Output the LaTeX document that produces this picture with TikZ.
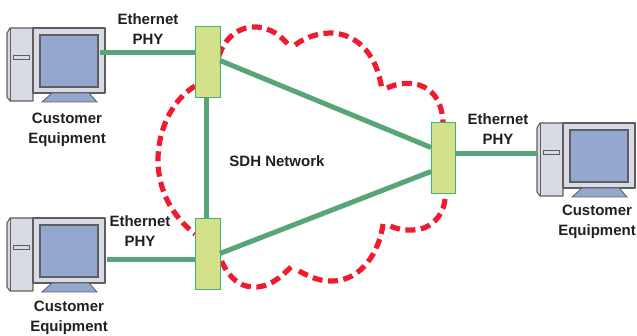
\documentclass[tikz,border=0pt]{standalone}
\usepackage{fontspec}
\setmainfont{Liberation Sans}
\usetikzlibrary{calc}
\definecolor{linkgreen}{HTML}{58A678}
\definecolor{boxfill}{HTML}{D3E28A}
\definecolor{boxline}{HTML}{3DB56C}
\definecolor{cloudred}{HTML}{EE1C2E}
\definecolor{casefill}{HTML}{D8DAE4}
\definecolor{screenfill}{HTML}{94A7CF}
\definecolor{caseline}{HTML}{5E5E62}
\definecolor{txt}{HTML}{231F20}
\tikzset{
  x=1pt,y=-1pt,
  link/.style={draw=linkgreen,line width=5pt},
  mux/.style={draw=boxline,line width=0.9pt,fill=boxfill,minimum width=24.5pt,minimum height=71pt,inner sep=0pt,outer sep=0pt},
  cloudline/.style={draw=cloudred,line width=5.2pt,dash pattern=on 10pt off 5.5pt},
  lbl/.style={font=\bfseries\fontsize{15}{20}\selectfont,text=txt,align=center,inner sep=0pt},
  casepart/.style={draw=caseline,line width=1.1pt,fill=casefill,line join=round},
  pics/computer/.style={code={
    \draw[casepart] (7,33)--(10,28)--(33,28)--(33,101)--(10,101)--(7,97)--cycle;
    \draw[caseline,line width=1pt] (10,28)--(10,101);
    \draw[caseline,line width=1pt,fill=casefill] (13,56) rectangle (29,59.5);
    \draw[casepart] (33,28) rectangle (105,93);
    \draw[draw=caseline,line width=1.1pt,fill=screenfill] (40,35) rectangle (98,87);
    \draw[draw=caseline,line width=0.8pt,fill=screenfill] (42,102)--(52,93)--(89,93)--(97,102)--cycle;
  }}
}
\begin{document}
\begin{tikzpicture}
\useasboundingbox (0,0) rectangle (637,336);
% cloud
\draw[cloudline] (219,56) .. controls (226,34) and (243,26) .. (257,27) .. controls (270,28) and (281,35) .. (290,47);
\draw[cloudline] (295,45) .. controls (307,36) and (320,33) .. (332,33) .. controls (352,34) and (376,48) .. (382,90);
\draw[cloudline] (387,88) .. controls (398,83) and (412,81) .. (424,87) .. controls (436,93) and (442,105) .. (443,122);
\draw[cloudline] (445,199) .. controls (444,212) and (436,223) .. (424,228) .. controls (410,232) and (398,230) .. (388,225);
\draw[cloudline] (383,224) .. controls (380,250) and (362,282) .. (330,281) .. controls (316,281) and (305,274) .. (295,269);
\draw[cloudline] (291,267) .. controls (280,278) and (268,288) .. (253,287) .. controls (238,287) and (226,274) .. (220,257);
\draw[cloudline] (195,86) .. controls (172,100) and (158,130) .. (158,160) .. controls (158,190) and (172,216) .. (195,234);
% computers
\pic (pcA) at (0,0) {computer};
\pic (pcB) at (0,190) {computer};
\pic (pcC) at (530,95) {computer};
% multiplexers
\node[mux] (muxA) at (207.75,61.5) {};
\node[mux] (muxB) at (207.75,253.5) {};
\node[mux] (muxC) at (443.25,157.5) {};
% free ends at the computers
\coordinate (endA) at (100,52.5);
\coordinate (endB) at (107,260);
\coordinate (endC) at (537,154);
% links
\draw[link] (endA) -- (endA -| muxA.west);
\draw[link] (endB) -- (endB -| muxB.west);
\draw[link] (endC) -- (endC -| muxC.east);
\draw[link] ($(muxA.south)+(-1.75,0)$) -- ($(muxB.north)+(-1.75,0)$);
\draw[link] ($(muxA.east)+(0,-1)$) -- ($(muxC.west)+(0,-10)$);
\draw[link] (muxB.east) -- ($(muxC.west)+(0,14)$);
% labels
\node[lbl] (phyA) at (148,29) {Ethernet\\PHY};
\node[lbl] (phyB) at (140,231) {Ethernet\\PHY};
\node[lbl] (phyC) at (498,129) {Ethernet\\PHY};
\node[lbl] (custA) at (67,130) {Customer\\Equipment};
\node[lbl] (custB) at (69,318) {Customer\\Equipment};
\node[lbl] (custC) at (597,222) {Customer\\Equipment};
\node[lbl] (sdh) at (277,161) {SDH Network};
\end{tikzpicture}
\end{document}
